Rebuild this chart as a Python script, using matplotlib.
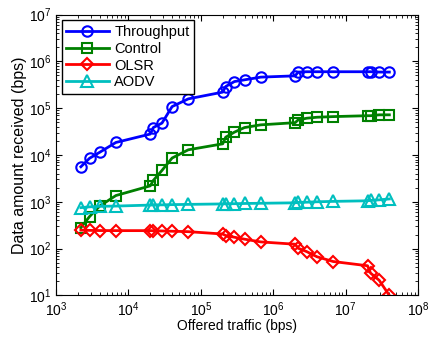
import numpy as np
import matplotlib
matplotlib.use('Agg')
import matplotlib.pyplot as plt

plt.rcParams['font.family'] = ['Liberation Sans', 'DejaVu Sans']
plt.rcParams['mathtext.default'] = 'regular'

# offered traffic (bps)
traffic = [2.2e3, 2.9e3, 4e3, 6.7e3,
           2e4, 2.2e4, 2.9e4, 4e4, 6.7e4,
           2e5, 2.2e5, 2.9e5, 4e5, 6.7e5,
           2e6, 2.2e6, 2.9e6, 4e6, 6.7e6,
           2e7, 2.2e7, 2.9e7, 4e7]

throughput = [5600, 8500, 11400, 18500,
              28000, 38500, 48000, 108000, 158000,
              220000, 290000, 370000, 403000, 460000,
              490000, 590000, 600000, 600000, 600000,
              600000, 600000, 590000, 590000]

control = [280, 484, 810, 1360,
           2190, 2850, 4680, 8600, 12900,
           17300, 24000, 30700, 38500, 44000,
           49000, 56000, 61000, 64000, 66000,
           69000, 69000, 72000, 72000]

olsr = [248, 245, 243, 242,
        242, 240, 238, 235, 230,
        205, 190, 175, 159, 139,
        124, 102, 86, 67, 53,
        43, 30, 21, 10]

aodv = [750, 780, 800, 810,
        850, 860, 860, 870, 880,
        900, 910, 910, 920, 930,
        950, 970, 980, 1000, 1020,
        1050, 1070, 1100, 1150]

fig = plt.figure(figsize=(4.28, 3.38), dpi=100)
ax = fig.add_axes([0.131, 0.126, 0.846, 0.831])

ax.loglog(traffic, throughput, '-o', color=(0, 0, 1), lw=2, ms=7.5, mew=1.5, mfc='none', label='Throughput')
ax.loglog(traffic, control, '-s', color=(0, 0.5, 0), lw=2, ms=6.5, mew=1.5, mfc='none', label='Control')
ax.loglog(traffic, olsr, '-D', color=(1, 0, 0), lw=2, ms=6.5, mew=1.5, mfc='none', label='OLSR')
ax.loglog(traffic, aodv, '-^', color=(0, 0.75, 0.75), lw=2, ms=8, mew=1.5, mfc='none', label='AODV')

ax.set_xlim(1e3, 1e8)
ax.set_ylim(1e1, 1e7)
ax.tick_params(which='both', direction='in', top=True, right=True, labelsize=10)
ax.tick_params(which='major', length=4)
ax.tick_params(which='minor', length=2)
ax.set_xlabel('Offered traffic (bps)', fontsize=10, labelpad=0)
ax.set_ylabel('Data amount received (bps)', fontsize=11.5, labelpad=1)

leg = ax.legend(loc='upper left', fontsize=10.5, handlelength=2.9, fancybox=False,
                edgecolor='black', framealpha=1, borderaxespad=0.4,
                labelspacing=0.2, borderpad=0.3, handletextpad=0.4)
leg.get_frame().set_linewidth(1)

fig.savefig('out.png', dpi=100)
